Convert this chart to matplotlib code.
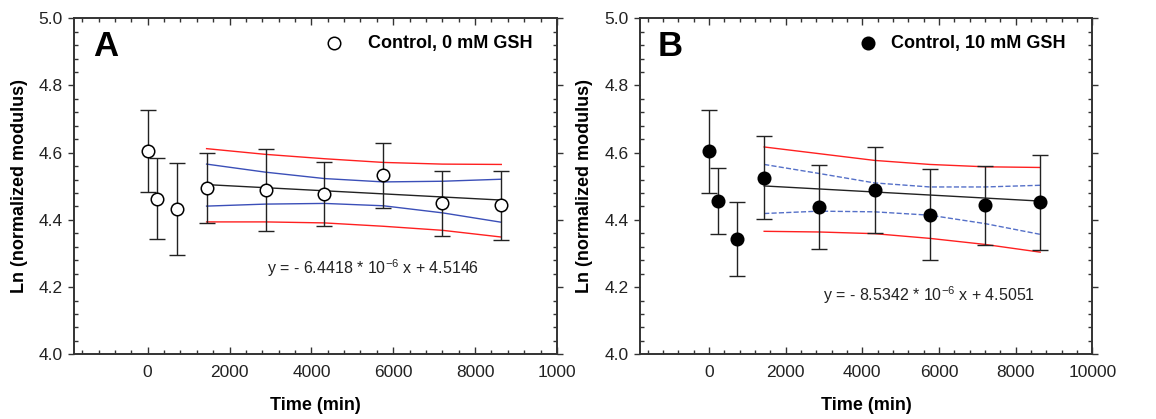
"""Ln(normalized modulus) vs time for control gels, 0 mM and 10 mM GSH"""
import matplotlib
matplotlib.use('Agg')
from matplotlib import pyplot as plt
from matplotlib.ticker import MultipleLocator

plt.rcParams['font.family'] = ['Liberation Sans', 'DejaVu Sans']

time = [0, 240, 720, 1440, 2880, 4320, 5760, 7200, 8640]
fit_x = [1440, 2880, 4320, 5760, 7200, 8640]

# panel A: control, 0 mM GSH
a_y = [4.605, 4.463, 4.433, 4.495, 4.490, 4.477, 4.533, 4.449, 4.443]
a_err = [0.122, 0.120, 0.136, 0.105, 0.122, 0.096, 0.097, 0.096, 0.103]
a_fit = [4.505, 4.496, 4.487, 4.477, 4.468, 4.459]
a_ci_hi = [4.566, 4.542, 4.523, 4.513, 4.515, 4.521]
a_ci_lo = [4.441, 4.447, 4.449, 4.442, 4.421, 4.393]
a_pi_hi = [4.612, 4.595, 4.582, 4.571, 4.566, 4.565]
a_pi_lo = [4.394, 4.394, 4.391, 4.381, 4.369, 4.349]

# panel B: control, 10 mM GSH
b_y = [4.604, 4.455, 4.342, 4.526, 4.439, 4.489, 4.416, 4.443, 4.452]
b_err = [0.123, 0.098, 0.110, 0.123, 0.125, 0.128, 0.134, 0.118, 0.142]
b_fit = [4.501, 4.492, 4.483, 4.474, 4.465, 4.456]
b_ci_hi = [4.565, 4.538, 4.510, 4.498, 4.498, 4.503]
b_ci_lo = [4.419, 4.426, 4.424, 4.414, 4.389, 4.357]
b_pi_hi = [4.617, 4.597, 4.577, 4.565, 4.558, 4.556]
b_pi_lo = [4.366, 4.364, 4.359, 4.345, 4.327, 4.304]

xticks = [0, 2000, 4000, 6000, 8000, 10000]
a_xticklabels = ['0', '2000', '4000', '6000', '8000', '1000']
b_xticklabels = ['0', '2000', '4000', '6000', '8000', '10000']

fig = plt.figure(figsize=(11.56, 4.19), dpi=100)
ax_a = fig.add_axes([0.064, 0.1544, 0.4178, 0.802])
ax_b = fig.add_axes([0.5536, 0.1544, 0.3913, 0.802])

dark = '#333333'
panels = [
    (ax_a, a_y, a_err, a_fit, a_ci_hi, a_ci_lo, a_pi_hi, a_pi_lo, 'white', '-', '#3b4fb8',
     'A', 'Control, 0 mM GSH', r'y = - 6.4418 * 10$^{\mathregular{-6}}$ x + 4.5146',
     a_xticklabels, (0.40, 0.257), 0.538),
    (ax_b, b_y, b_err, b_fit, b_ci_hi, b_ci_lo, b_pi_hi, b_pi_lo, 'black', '--', '#5570c8',
     'B', 'Control, 10 mM GSH', r'y = - 8.5342 * 10$^{\mathregular{-6}}$ x + 4.5051',
     b_xticklabels, (0.405, 0.177), 0.504),
]

for (ax, y, err, fit, ci_hi, ci_lo, pi_hi, pi_lo, face, ci_ls, ci_col,
     letter, label, eq, xtl, eqpos, keyx) in panels:
    ax.plot(fit_x, pi_hi, color='#ff2020', lw=1.0, zorder=2)
    ax.plot(fit_x, pi_lo, color='#ff2020', lw=1.0, zorder=2)
    ax.plot(fit_x, ci_hi, color=ci_col, lw=1.0, ls=ci_ls, zorder=2)
    ax.plot(fit_x, ci_lo, color=ci_col, lw=1.0, ls=ci_ls, zorder=2)
    ax.plot([fit_x[0], fit_x[-1]], [fit[0], fit[-1]], color='#222222', lw=1.0, zorder=2)
    ax.errorbar(time, y, yerr=err, fmt='none', ecolor='#222222', elinewidth=1.0,
                capsize=5.5, capthick=1.0, zorder=3)
    ax.plot(time, y, 'o', ms=9, mfc=face, mec='black', mew=1.1, ls='none', zorder=4)

    # legend-style key
    ax.plot([keyx], [0.926], 'o', ms=9, mfc=face, mec='black', mew=1.1,
            transform=ax.transAxes, clip_on=False)
    ax.text(0.95 if letter == 'A' else 0.94, 0.926, label, transform=ax.transAxes,
            ha='right', va='center', fontsize=13, fontweight='bold', color='black')
    ax.text(0.04, 0.915, letter, transform=ax.transAxes, ha='left', va='center',
            fontsize=25, fontweight='heavy', color='black')
    ax.text(eqpos[0], eqpos[1], eq, transform=ax.transAxes, ha='left', va='center',
            fontsize=11.5, color='#222222')

    ax.set_xlim(-1800, 10000)
    ax.set_ylim(4.0, 5.0)
    ax.set_xticks(xticks)
    ax.set_xticklabels(xtl)
    ax.set_yticks([4.0, 4.2, 4.4, 4.6, 4.8, 5.0])
    ax.set_yticklabels(['4.0', '4.2', '4.4', '4.6', '4.8', '5.0'])
    ax.xaxis.set_minor_locator(MultipleLocator(400))
    ax.yaxis.set_minor_locator(MultipleLocator(0.04))
    ax.tick_params(which='both', top=True, right=True, direction='in', color=dark,
                   labelsize=12.5, labelcolor='#222222', width=1.0)
    ax.tick_params(which='major', length=5, pad=8)
    ax.tick_params(which='minor', length=3)
    ax.tick_params(axis='y', which='major', left=True, direction='out', length=4, pad=4)
    for sp in ax.spines.values():
        sp.set_color(dark)
        sp.set_linewidth(1.4)
    ax.set_xlabel('Time (min)', fontsize=13, fontweight='bold', labelpad=12)
    ax.set_ylabel('Ln (normalized modulus)', fontsize=13, fontweight='bold', labelpad=8)

plt.savefig('out.png', dpi=100)
